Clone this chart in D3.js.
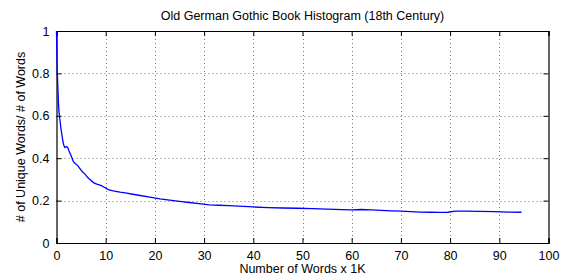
<!DOCTYPE html>
<html><head><meta charset="utf-8">
<script src="https://cdn.jsdelivr.net/npm/d3@7"></script>
<style>body{margin:0;background:#fff}svg{display:block}text{font-family:"Liberation Sans",Arial,sans-serif;fill:#000}</style>
</head><body>
<svg id="c" width="566" height="278"></svg>
<script>
const xs = [0,0.05,0.1,0.2,0.3,0.4,0.5,0.7,0.9,1.1,1.3,1.5,1.7,2.0,2.3,2.6,3.0,3.4,3.8,4.3,4.8,5.3,5.8,6.3,6.8,7.5,8.2,9.0,9.8,10.5,11.5,12.9,14,15.5,17,19,21,23,25,27,29,31,33,35,37,40,43,46,49,52,55,58,60,62,64,66,68,70,72,74,76,78,79.5,81,83,86,89,92,94.5];
const ys = [1.0,0.92,0.85,0.78,0.72,0.66,0.62,0.58,0.54,0.51,0.48,0.46,0.45,0.455,0.45,0.43,0.41,0.385,0.375,0.365,0.35,0.335,0.325,0.31,0.30,0.285,0.278,0.272,0.262,0.252,0.246,0.240,0.236,0.230,0.224,0.216,0.208,0.202,0.196,0.191,0.186,0.180,0.178,0.176,0.174,0.170,0.167,0.165,0.164,0.162,0.160,0.157,0.156,0.158,0.156,0.154,0.152,0.150,0.148,0.146,0.145,0.144,0.145,0.150,0.150,0.149,0.148,0.146,0.145];
const xTicks = [0,10,20,30,40,50,60,70,80,90,100];
const yTicks = [0,0.2,0.4,0.6,0.8,1];
const title = "Old German Gothic Book Histogram (18th Century)";
const xLabel = "Number of Words x 1K";
const yLabel = "# of Unique Words/ # of Words";

const L=56.5,R=548.5,T=31,B=243;
const FS="12.5px";
const svg=d3.select("#c");
const x=d3.scaleLinear().domain([0,100]).range([L,R]);
const y=d3.scaleLinear().domain([0,1]).range([B,T]);

// grid
const g=svg.append("g");
g.selectAll("line.gx").data(xTicks.slice(1,-1)).join("line")
 .attr("x1",d=>Math.round(x(d))+0.5).attr("x2",d=>Math.round(x(d))+0.5).attr("y1",T).attr("y2",B)
 .attr("stroke","#555").attr("stroke-width",0.8).attr("stroke-dasharray","1,3");
g.selectAll("line.gy").data(yTicks.slice(1,-1)).join("line")
 .attr("y1",d=>Math.round(y(d))+0.5).attr("y2",d=>Math.round(y(d))+0.5).attr("x1",L).attr("x2",R)
 .attr("stroke","#555").attr("stroke-width",0.8).attr("stroke-dasharray","1,3");

// axes
const fmt=d=>d3.format("")(d);
const xa=svg.append("g").attr("transform",`translate(0,${B})`)
 .call(d3.axisBottom(x).tickValues(xTicks).tickSize(-5).tickPadding(8).tickFormat(fmt));
const xt=svg.append("g").attr("transform",`translate(0,${T})`)
 .call(d3.axisTop(x).tickValues(xTicks).tickSize(-5).tickFormat(""));
const ya=svg.append("g").attr("transform",`translate(${L},0)`)
 .call(d3.axisLeft(y).tickValues(yTicks).tickSize(-5).tickPadding(7).tickFormat(fmt));
const yr=svg.append("g").attr("transform",`translate(${R},0)`)
 .call(d3.axisRight(y).tickValues(yTicks).tickSize(-5).tickFormat(""));
[xa,xt,ya,yr].forEach(a=>{a.select(".domain").attr("stroke","#000").attr("stroke-width",1.2);
 a.selectAll(".tick line").attr("stroke","#000");
 a.selectAll("text").style("font-size",FS).style("font-family","'Liberation Sans',Arial,sans-serif").attr("fill","#000");});

// line
const data=xs.map((v,i)=>[v,ys[i]]);
svg.append("path").datum(data).attr("fill","none").attr("stroke","#0000ff").attr("stroke-width",1.3)
 .attr("d",d3.line().x(d=>x(d[0])).y(d=>y(d[1])));

svg.append("text").attr("x",(L+R)/2).attr("y",20).attr("text-anchor","middle").style("font-size",FS).text(title);
svg.append("text").attr("x",(L+R)/2).attr("y",273).attr("text-anchor","middle").style("font-size",FS).text(xLabel);
svg.append("text").attr("transform",`translate(25,${(T+B)/2}) rotate(-90)`).attr("text-anchor","middle").style("font-size",FS).text(yLabel);
</script>
</body></html>
